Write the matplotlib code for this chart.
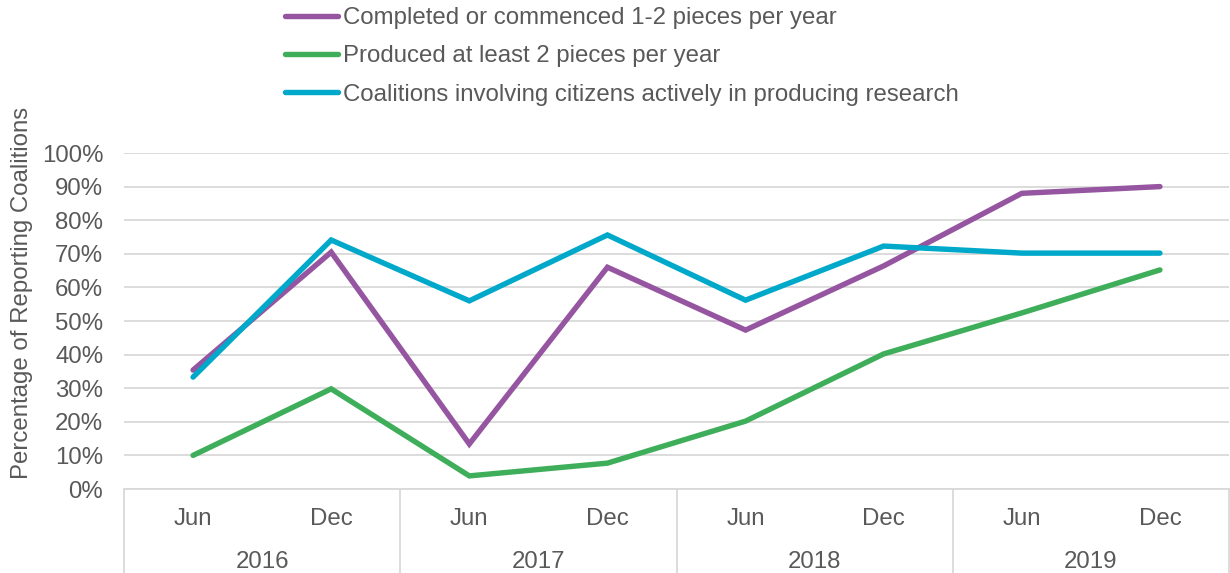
import matplotlib
matplotlib.use("Agg")
import matplotlib.pyplot as plt
import matplotlib.transforms as mtransforms
from matplotlib.ticker import FuncFormatter, MultipleLocator

months = ["Jun", "Dec", "Jun", "Dec", "Jun", "Dec", "Jun", "Dec"]
years = ["2016", "2017", "2018", "2019"]
series_names = [
    "Completed or commenced 1-2 pieces per year",
    "Produced at least 2 pieces per year",
    "Coalitions involving citizens actively in producing research",
]
completed = [35.4, 70.5, 13.4, 66.0, 47.3, 66.4, 88.0, 90.0]
produced = [10.0, 29.8, 3.9, 7.7, 20.2, 40.2, 52.4, 65.2]
citizens = [33.3, 74.1, 56.0, 75.6, 56.2, 72.3, 70.2, 70.2]
colors = ["#9555A0", "#3FAE5A", "#00A8CA"]

plt.rcParams['font.family'] = ['Liberation Sans', 'DejaVu Sans']
text_color = "#595959"
grid_color = "#D9D9D9"
FS = 17.3

fig = plt.figure(figsize=(12.3, 5.73), dpi=100)
ax = fig.add_axes([124/1230, 1-489/573, (1229-124)/1230, (489-153)/573])

x = list(range(len(months)))
handles = []
for vals, name, c in zip([completed, produced, citizens], series_names, colors):
    h, = ax.plot(x, vals, color=c, lw=3.9, solid_capstyle='round', solid_joinstyle='miter', label=name, zorder=3)
    handles.append(h)

ax.set_ylim(0, 100)
ax.set_xlim(-0.5, 7.5)
ax.yaxis.set_major_locator(MultipleLocator(10))
ax.yaxis.set_major_formatter(FuncFormatter(lambda v, p: f"{int(round(v))}%"))
ax.grid(axis='y', color=grid_color, lw=1.3, zorder=0)
ax.set_axisbelow(True)
for s in ['left', 'right', 'top']:
    ax.spines[s].set_visible(False)
ax.spines['bottom'].set_color(grid_color)
ax.spines['bottom'].set_linewidth(1.3)
ax.tick_params(axis='y', length=0, pad=15, labelsize=FS, labelcolor=text_color)
ax.set_xticks([])

trans = mtransforms.blended_transform_factory(ax.transData, ax.transAxes)
ax_h_px = 489 - 153
for i, m in enumerate(months):
    ax.text(i, -(519 - 489) / ax_h_px, m, transform=trans, ha='center', va='center',
            fontsize=FS, color=text_color)
for j, yr in enumerate(years):
    ax.text(2 * j + 0.5, -(562 - 489) / ax_h_px, yr, transform=trans, ha='center', va='center',
            fontsize=FS, color=text_color)
for b in [-0.5, 1.5, 3.5, 5.5, 7.5]:
    ax.plot([b, b], [0, -(573 - 489) / ax_h_px], transform=trans, color=grid_color,
            lw=1.3, clip_on=False)

fig.text(22/1230, 1 - 293/573, "Percentage of Reporting Coalitions", rotation=90,
         ha='center', va='center', fontsize=FS, color=text_color)

leg = fig.legend(handles=handles, loc='upper left', bbox_to_anchor=(285/1230, 1.0 - 7/573),
                 frameon=False, fontsize=FS, handlelength=2.2, handletextpad=0.2,
                 labelspacing=0.68, borderpad=0.0, borderaxespad=0.0)
for t in leg.get_texts():
    t.set_color(text_color)

fig.savefig("out.png", dpi=100)
